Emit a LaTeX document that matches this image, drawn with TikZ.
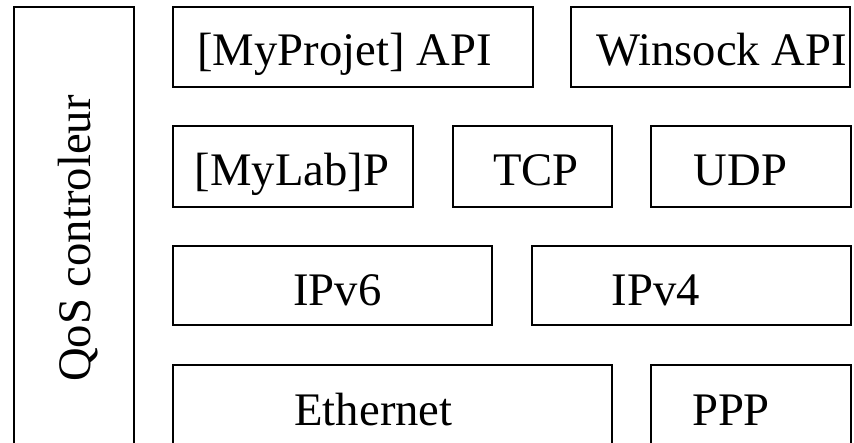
\documentclass[tikz,border=0pt]{standalone}
\usepackage{fontspec}
\setmainfont{Liberation Serif}
\tikzset{every picture/.style={line width=1.5pt}}
\tikzset{layer/.style={anchor=base,inner sep=0pt,font=\fontsize{35}{42}\selectfont}}

\begin{document}
\begin{tikzpicture}[x=0.75pt,y=0.75pt,yscale=-1,xscale=1]
	\useasboundingbox (0,0) rectangle (854,443);

	%Shape: Rectangle [id:dp4410273815]
	\draw   (14,7) rectangle (134,470) ;
	%Shape: Rectangle [id:dp2093118764]
	\draw   (173,7) rectangle (533,87) ;
	%Shape: Rectangle [id:dp6627301945]
	\draw   (571,7) rectangle (850,87) ;
	%Shape: Rectangle [id:dp8150237712]
	\draw   (173,126) rectangle (413,207) ;
	%Shape: Rectangle [id:dp3374061950]
	\draw   (453,126) rectangle (612,207) ;
	%Shape: Rectangle [id:dp7712864039]
	\draw   (651,126) rectangle (851,207) ;
	%Shape: Rectangle [id:dp5518203347]
	\draw   (173,246) rectangle (492,325) ;
	%Shape: Rectangle [id:dp9021446610]
	\draw   (532,246) rectangle (851,325) ;
	%Shape: Rectangle [id:dp1263958704]
	\draw   (173,365) rectangle (612,470) ;
	%Shape: Rectangle [id:dp6480312295]
	\draw   (651,365) rectangle (851,470) ;

	% Text Node
	\node [layer,rotate=90] (qos) at (90,238.5) {QoS controleur};
	% Text Node
	\node [layer] (myapi) at (344.5,65) {[MyProjet] API};
	% Text Node
	\node [layer] (winsock) at (721.5,65) {Winsock API};
	% Text Node
	\node [layer] (mylab) at (292,185) {[MyLab]P};
	% Text Node
	\node [layer] (tcp) at (536,185) {TCP};
	% Text Node
	\node [layer] (udp) at (740.5,185) {UDP};
	% Text Node
	\node [layer] (ipsix) at (337.5,305) {IPv6};
	% Text Node
	\node [layer] (ipfour) at (656,305) {IPv4};
	% Text Node
	\node [layer] (ether) at (373.5,425) {Ethernet};
	% Text Node
	\node [layer] (ppp) at (731,425) {PPP};

\end{tikzpicture}
\end{document}
